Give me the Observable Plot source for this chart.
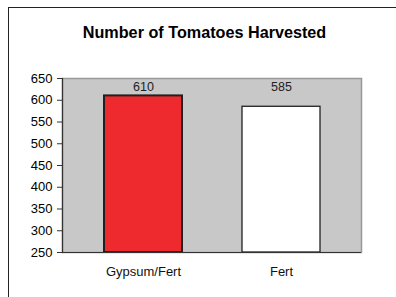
<!DOCTYPE html>
<html>
<head>
<meta charset="utf-8">
<script src="https://cdn.jsdelivr.net/npm/d3@7"></script>
<script src="https://cdn.jsdelivr.net/npm/@observablehq/plot@0.6"></script>
<style>
  html, body { margin: 0; padding: 0; background: #fff; width: 396px; height: 297px; overflow: hidden; }
  #frame { position: absolute; left: 8px; top: 7px; width: 400px; height: 300px; border: 1px solid #222; box-sizing: border-box; }
  #title { position: absolute; left: 0; width: 409px; top: 23px; text-align: center; font: bold 16.2px "Liberation Sans", Arial, sans-serif; color: #000; }
  #chart { position: absolute; left: 0; top: 0; }
</style>
</head>
<body>
<div id="frame"></div>
<div id="title">Number of Tomatoes Harvested</div>
<div id="chart"></div>
<script>
const categories = ["Gypsum/Fert", "Fert"];
const values = [610, 585];
const barColors = ["#ee2a2f", "#ffffff"];
const yTicks = [250, 300, 350, 400, 450, 500, 550, 600, 650];

const data = categories.map((c, i) => ({ category: c, value: values[i], color: barColors[i] }));

const plot = Plot.plot({
  width: 396,
  height: 297,
  marginTop: 78,
  marginBottom: 45,
  marginLeft: 62,
  marginRight: 35,
  style: { fontFamily: "'Liberation Sans', Arial, sans-serif", fontSize: "13px", color: "#000", background: "transparent" },
  x: { domain: categories, paddingInner: 0.437, paddingOuter: 0.298, axis: null },
  y: { domain: [yTicks[0], yTicks[yTicks.length - 1]], ticks: yTicks, axis: null },
  marks: [
    Plot.frame({ fill: "#c8c8c8", stroke: "#999", strokeWidth: 1.5 }),
    Plot.barY(data, { x: "category", y1: yTicks[0], y2: "value", fill: "color", stroke: "#231f20", strokeWidth: (d, i) => i === 0 ? 2 : 1.3 }),
    Plot.frame({ anchor: "left", stroke: "#333", strokeWidth: 1.2 }),
    Plot.axisY({ ticks: yTicks, tickSize: 5, tickPadding: 5, tickFormat: d => String(d), fontSize: 13, stroke: "#333", label: null }),
    Plot.ruleY([yTicks[0]], { stroke: "#333", strokeWidth: 1.2 }),
    Plot.text(data, { x: "category", text: d => String(d.value), frameAnchor: "top", lineAnchor: "middle", dy: 8.5, fontSize: 12.5, fill: "#222" }),
    Plot.text(data, { x: "category", text: "category", frameAnchor: "bottom", lineAnchor: "middle", dy: 19, fontSize: 13, fill: "#111" })
  ]
});
document.getElementById("chart").appendChild(plot);
</script>
</body>
</html>
